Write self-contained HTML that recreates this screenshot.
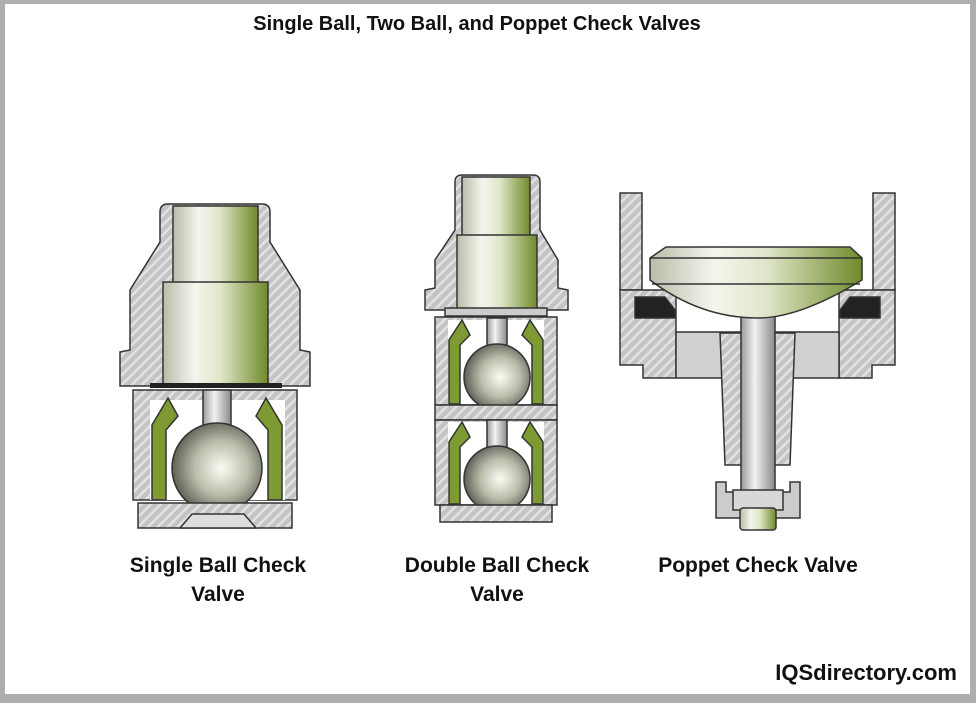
<!DOCTYPE html>
<html><head><style>
html,body{margin:0;padding:0;background:#aeaeae;}
#w{position:absolute;left:5px;top:4px;width:965px;height:690px;background:#fff;}
svg{position:absolute;left:0;top:0;}
text{font-family:"Liberation Sans",sans-serif;font-weight:bold;fill:#111;}
</style></head><body>
<div id="w"></div>
<svg width="976" height="703" viewBox="0 0 976 703">
<defs>
<pattern id="h" width="7" height="7" patternUnits="userSpaceOnUse" patternTransform="rotate(45)">
<rect width="7" height="7" fill="#c4c4c4"/><rect width="2.5" height="7" fill="#e2e2e2"/></pattern>
<linearGradient id="cyl" x1="0" x2="1">
<stop offset="0" stop-color="#b8bca8"/><stop offset=".3" stop-color="#f4f6ee"/><stop offset=".55" stop-color="#dfe6c8"/><stop offset="1" stop-color="#6f8a2a"/></linearGradient>
<linearGradient id="rod" x1="0" x2="1">
<stop offset="0" stop-color="#9a9a9a"/><stop offset=".4" stop-color="#f2f2f2"/><stop offset="1" stop-color="#8a8a8a"/></linearGradient>
<radialGradient id="ball" cx=".55" cy=".5" r=".6">
<stop offset="0" stop-color="#fbfdf4"/><stop offset=".5" stop-color="#b9bdaa"/><stop offset="1" stop-color="#4a4d45"/></radialGradient>
</defs>
<text x="477" y="30" font-size="20" text-anchor="middle">Single Ball, Two Ball, and Poppet Check Valves</text>

<!-- SINGLE BALL -->
<g stroke="#333" stroke-width="1.5">
<path d="M160 212 Q160 204 168 204 L262 204 Q270 204 270 212 L270 242 L300 290 L300 350 L310 352 L310 386 L120 386 L120 352 L130 350 L130 290 L160 242 Z" fill="url(#h)"/>
<rect x="173" y="206" width="85" height="78" fill="url(#cyl)"/>
<rect x="163" y="282" width="105" height="102" fill="url(#cyl)"/>
<path d="M133 390 L297 390 L297 500 L133 500 Z" fill="url(#h)"/>
<path d="M150 400 L285 400 L285 500 L150 500 Z" fill="#fff" stroke="none"/>
<path d="M152 500 L152 425 L168 398 L178 416 L166 430 L166 500Z" fill="#7e9a32"/>
<path d="M282 500 L282 425 L266 398 L256 416 L268 430 L268 500Z" fill="#7e9a32"/>
<rect x="203" y="390" width="28" height="40" fill="url(#rod)"/>
<circle cx="217" cy="468" r="45" fill="url(#ball)"/>
<rect x="138" y="503" width="154" height="25" fill="url(#h)"/>
<path d="M180 528 L192 514 L244 514 L256 528Z" fill="#ddd"/>
</g>
<rect x="150" y="383" width="132" height="5" fill="#222"/>

<!-- DOUBLE BALL -->
<g stroke="#333" stroke-width="1.5">
<path d="M455 182 Q455 175 462 175 L533 175 Q540 175 540 182 L540 230 L558 260 L558 288 L568 290 L568 310 L425 310 L425 290 L435 288 L435 260 L455 230 Z" fill="url(#h)"/>
<rect x="462" y="177" width="68" height="60" fill="url(#cyl)"/>
<rect x="457" y="235" width="80" height="74" fill="url(#cyl)"/>
<rect x="445" y="308" width="102" height="8" fill="#ccc"/>
<rect x="435" y="317" width="122" height="88" fill="url(#h)"/>
<rect x="448" y="320" width="96" height="84" fill="#fff" stroke="none"/>
<path d="M449 404 L449 340 L462 320 L470 335 L460 345 L460 404Z" fill="#7e9a32"/>
<path d="M543 404 L543 340 L530 320 L522 335 L532 345 L532 404Z" fill="#7e9a32"/>
<rect x="487" y="318" width="20" height="30" fill="url(#rod)"/>
<circle cx="497" cy="377" r="33" fill="url(#ball)"/>
<rect x="435" y="405" width="122" height="15" fill="url(#h)"/>
<rect x="435" y="420" width="122" height="85" fill="url(#h)"/>
<rect x="448" y="422" width="96" height="82" fill="#fff" stroke="none"/>
<path d="M449 504 L449 442 L462 422 L470 437 L460 447 L460 504Z" fill="#7e9a32"/>
<path d="M543 504 L543 442 L530 422 L522 437 L532 447 L532 504Z" fill="#7e9a32"/>
<rect x="487" y="420" width="20" height="30" fill="url(#rod)"/>
<circle cx="497" cy="479" r="33" fill="url(#ball)"/>
<rect x="440" y="505" width="112" height="17" fill="url(#h)"/>
</g>

<!-- POPPET -->
<g stroke="#333" stroke-width="1.5">
<rect x="620" y="193" width="22" height="97" fill="url(#h)"/>
<rect x="873" y="193" width="22" height="97" fill="url(#h)"/>
<path d="M620 290 L676 290 L676 378 L643 378 L643 365 L620 365Z" fill="url(#h)"/>
<path d="M895 290 L839 290 L839 378 L872 378 L872 365 L895 365Z" fill="url(#h)"/>
<rect x="676" y="332" width="163" height="46" fill="#d0d0d0"/>
<path d="M720 333 L795 333 L790 465 L725 465Z" fill="url(#h)"/>
<path d="M635 297 L665 297 L675 310 L675 318 L635 318Z" fill="#222"/>
<path d="M880 297 L850 297 L840 310 L840 318 L880 318Z" fill="#222"/>
<rect x="741" y="305" width="34" height="205" fill="url(#rod)"/>
<path d="M716 482 L726 482 L726 492 L790 492 L790 482 L800 482 L800 518 L716 518Z" fill="#ccc"/>
<rect x="733" y="490" width="50" height="20" fill="#d8d8d8"/>
<rect x="740" y="508" width="36" height="22" rx="3" fill="url(#cyl)"/>
<path d="M666 247 L850 247 L862 258 L862 280 Q800 318 758 318 Q700 318 650 280 L650 258 Z" fill="url(#cyl)"/>
<line x1="650" y1="258" x2="862" y2="258"/><line x1="652" y1="284" x2="860" y2="284"/>
</g>

<g font-size="21" text-anchor="middle">
<text x="218" y="572">Single Ball Check</text><text x="218" y="601">Valve</text>
<text x="497" y="572">Double Ball Check</text><text x="497" y="601">Valve</text>
<text x="758" y="572">Poppet Check Valve</text>
</g>
<text x="957" y="680" font-size="22" text-anchor="end">IQSdirectory.com</text>
</svg>
</body></html>
